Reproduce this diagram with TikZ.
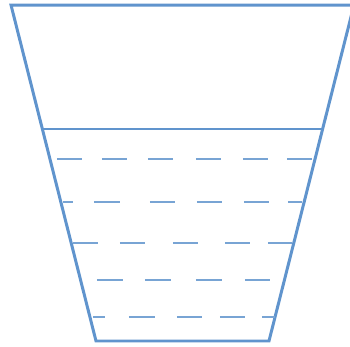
\documentclass[tikz,border=0pt]{standalone}
\usepackage{tikz}

\definecolor{cupblue}{RGB}{96,148,205}
\tikzset{
    wall/.style={draw=cupblue, line width=0.85pt, line join=miter},
    surface/.style={draw=cupblue, line width=0.55pt},
    ripple/.style={draw=cupblue!85, line width=0.55pt}
}

\begin{document}
\begin{tikzpicture}[x=0.01cm, y=-0.01cm]
        \useasboundingbox (0,0) rectangle (350,347);
        \clip (0,0) rectangle (350,347);
        \coordinate (tl) at (11,5);
        \coordinate (tr) at (354,5);
        \coordinate (bl) at (96,341);
        \coordinate (br) at (269,341);
        \coordinate (wl) at (42,129);
        \coordinate (wr) at (323,129);

        \draw[wall] (tr) -- (tl) -- (bl) -- (br) -- (tr);
        \draw[surface] (wl) -- (wr);

        \foreach \a/\b in {57/82, 102/127, 148/173, 196/221, 243/268, 287/312}
            \draw[ripple] (\a,159) -- (\b,159);
        \foreach \a/\b in {63/73, 94/120, 150/175, 197/222, 244/269, 288/302}
            \draw[ripple] (\a,202) -- (\b,202);
        \foreach \a/\b in {73/98, 120/145, 173/198, 225/250, 268/292}
            \draw[ripple] (\a,243) -- (\b,243);
        \foreach \a/\b in {97/123, 145/171, 196/222, 245/270}
            \draw[ripple] (\a,280) -- (\b,280);
        \foreach \a/\b in {93/105, 129/155, 177/202, 220/245, 262/275}
            \draw[ripple] (\a,317) -- (\b,317);
\end{tikzpicture}
\end{document}
